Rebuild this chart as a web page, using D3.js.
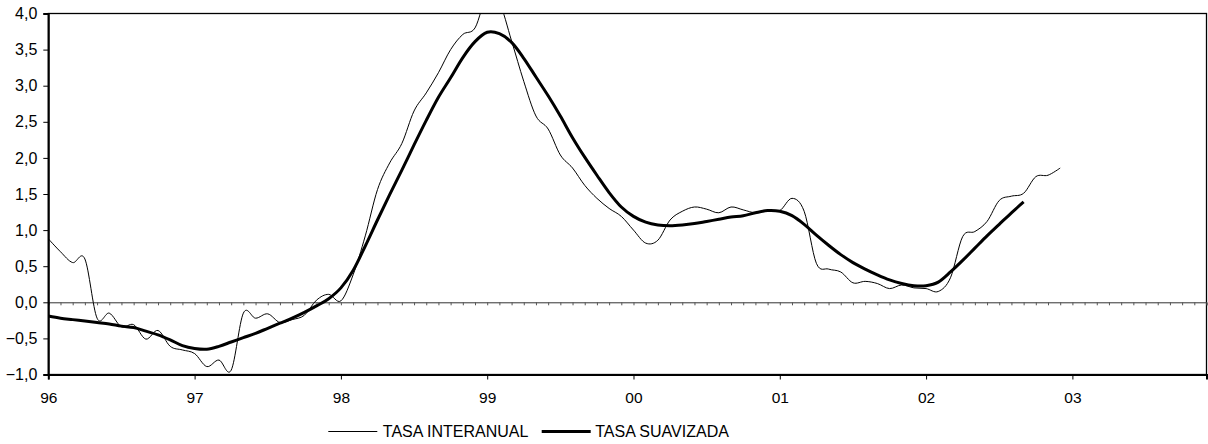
<!DOCTYPE html>
<html>
<head>
<meta charset="utf-8">
<script src="https://cdn.jsdelivr.net/npm/d3@7"></script>
<style>
  body { margin: 0; background: #fff; }
  svg { display: block; font-family: Arial, "Liberation Sans", sans-serif; }
</style>
</head>
<body>
<script>
// year labels, one every 12 months starting Jan 1996
const yearLabels = ["96", "97", "98", "99", "00", "01", "02", "03"];
const nMonths = 96;

// monthly values, Jan 1996 onwards
const tasaInteranual = [
  0.88, 0.70, 0.55, 0.60, -0.22, -0.15, -0.34, -0.31, -0.51, -0.39, -0.61, -0.66,
  -0.71, -0.89, -0.80, -0.94, -0.15, -0.22, -0.16, -0.28, -0.24, -0.18, 0.03, 0.11,
  0.02, 0.38, 0.92, 1.56, 1.93, 2.20, 2.65, 2.90, 3.18, 3.50, 3.71, 3.80,
  4.25, 4.15, 3.62, 3.06, 2.58, 2.40, 2.04, 1.86, 1.62, 1.44, 1.30, 1.19,
  1.00, 0.82, 0.86, 1.14, 1.26, 1.32, 1.29, 1.24, 1.32, 1.28, 1.24, 1.27,
  1.27, 1.44, 1.26, 0.54, 0.46, 0.42, 0.27, 0.29, 0.26, 0.19, 0.24, 0.20,
  0.19, 0.15, 0.34, 0.91, 0.98, 1.12, 1.41, 1.47, 1.51, 1.74, 1.76, 1.86
];

const tasaSuavizada = [
  -0.19, -0.22, -0.24, -0.26, -0.28, -0.30, -0.33, -0.35, -0.40, -0.45, -0.52, -0.60,
  -0.64, -0.65, -0.61, -0.55, -0.49, -0.43, -0.36, -0.29, -0.22, -0.14, -0.05, 0.05,
  0.20, 0.44, 0.78, 1.14, 1.49, 1.83, 2.18, 2.52, 2.84, 3.11, 3.39, 3.61,
  3.74, 3.72, 3.60, 3.38, 3.12, 2.86, 2.58, 2.28, 2.01, 1.76, 1.52, 1.32,
  1.19, 1.11, 1.07, 1.06, 1.07, 1.09, 1.12, 1.15, 1.18, 1.20, 1.24, 1.27,
  1.26, 1.20, 1.08, 0.93, 0.79, 0.66, 0.55, 0.46, 0.38, 0.31, 0.26, 0.23,
  0.23, 0.28, 0.42, 0.58, 0.75, 0.92, 1.08, 1.24, 1.39
];

const yTicks = [-1, -0.5, 0, 0.5, 1, 1.5, 2, 2.5, 3, 3.5, 4];

const width = 1208, height = 444;
const plot = { left: 48.3, right: 1206.5, top: 13.5, bottom: 374.5 };

const es = d3.formatLocale({ decimal: ",", thousands: ".", grouping: [3], currency: ["", "€"] });

const x = d3.scaleLinear().domain([0, nMonths - 1]).range([plot.left, plot.right]);
const y = d3.scaleLinear().domain([-1, 4]).range([plot.bottom, plot.top]);

const svg = d3.select("body").append("svg")
    .attr("width", width)
    .attr("height", height);

svg.append("clipPath")
    .attr("id", "clip")
    .append("rect")
    .attr("x", plot.left)
    .attr("y", plot.top)
    .attr("width", plot.right - plot.left)
    .attr("height", plot.bottom - plot.top);

// plot border (top / right)
svg.append("rect")
    .attr("x", plot.left)
    .attr("y", plot.top)
    .attr("width", plot.right - plot.left)
    .attr("height", plot.bottom - plot.top)
    .attr("fill", "none")
    .attr("stroke", "#000")
    .attr("stroke-width", 1.3);

// zero line with monthly minor ticks
const zeroAxis = svg.append("g")
    .attr("transform", `translate(0,${y(0)})`)
    .call(d3.axisBottom(x).tickValues(d3.range(nMonths)).tickSize(3).tickFormat(""));
zeroAxis.select(".domain").attr("stroke", "#333").attr("stroke-width", 1);
zeroAxis.selectAll(".tick line").attr("stroke", "#555");

// y axis
const yAxis = svg.append("g")
    .attr("transform", `translate(${plot.left},0)`)
    .call(d3.axisLeft(y).tickValues(yTicks).tickSize(5).tickPadding(6).tickFormat(es.format(".1f")));
yAxis.select(".domain").attr("stroke-width", 2);
yAxis.selectAll(".tick text")
    .attr("font-size", 16)
    .attr("fill", "#000")
    .attr("font-family", "Arial, 'Liberation Sans', sans-serif");

// x axis at bottom
const xAxis = svg.append("g")
    .attr("transform", `translate(0,${plot.bottom})`)
    .call(d3.axisBottom(x)
        .tickValues(yearLabels.map((d, i) => i * 12))
        .tickSize(5)
        .tickPadding(12)
        .tickFormat((d, i) => yearLabels[i]));
xAxis.select(".domain").attr("stroke-width", 2);
xAxis.selectAll(".tick text")
    .attr("font-size", 15.5)
    .attr("fill", "#000")
    .attr("font-family", "Arial, 'Liberation Sans', sans-serif");

const line = d3.line()
    .x((d, i) => x(i))
    .y(d => y(d))
    .curve(d3.curveCardinal.tension(0));

const lines = svg.append("g").attr("clip-path", "url(#clip)");

lines.append("path")
    .datum(tasaInteranual)
    .attr("d", line)
    .attr("fill", "none")
    .attr("stroke", "#000")
    .attr("stroke-width", 1);

lines.append("path")
    .datum(tasaSuavizada)
    .attr("d", line)
    .attr("fill", "none")
    .attr("stroke", "#000")
    .attr("stroke-width", 3);

// legend
const legendItems = [
    { name: "TASA INTERANUAL", width: 1, x: 328.3 },
    { name: "TASA SUAVIZADA", width: 3, x: 541.7 }
];

const legend = svg.append("g").attr("transform", "translate(0,431.5)");

const item = legend.selectAll("g")
    .data(legendItems)
    .enter()
    .append("g")
    .attr("transform", d => `translate(${d.x},0)`);

item.append("line")
    .attr("x1", 0)
    .attr("x2", 49)
    .attr("stroke", "#000")
    .attr("stroke-width", d => d.width);

item.append("text")
    .attr("x", d => d.width > 1 ? 53.5 : 54.5)
    .attr("y", 5)
    .attr("font-size", 16)
    .text(d => d.name);
</script>
</body>
</html>
